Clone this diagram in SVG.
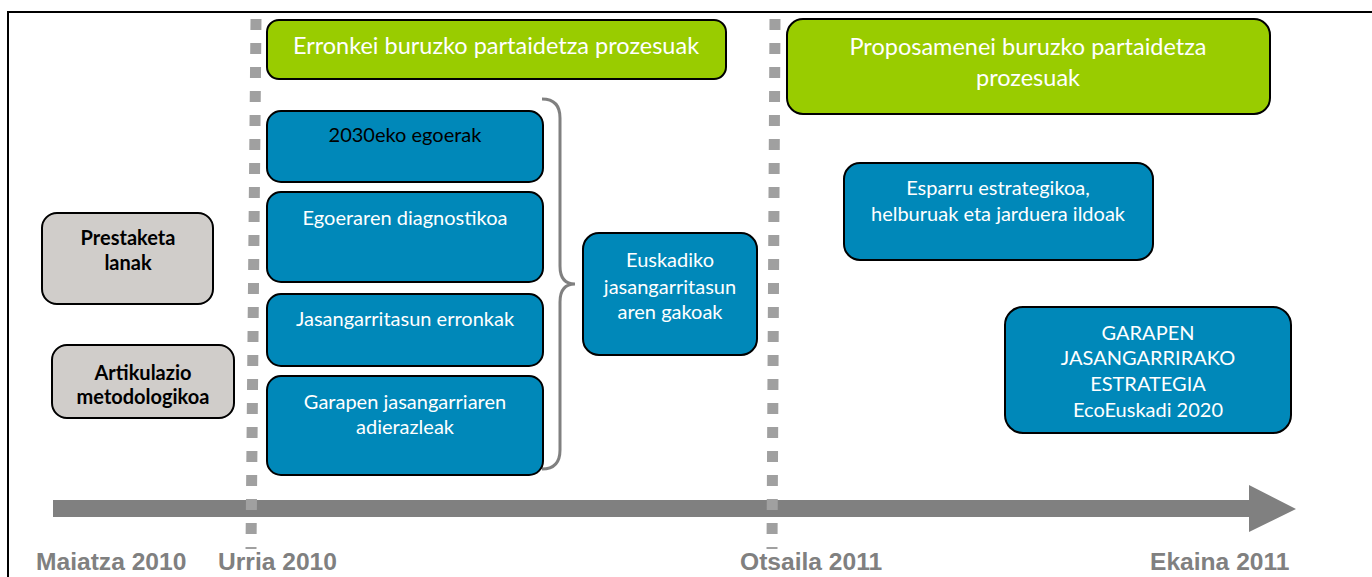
<svg xmlns="http://www.w3.org/2000/svg" width="1372" height="577" viewBox="0 0 1372 577">
<style>
.blue{fill:#0088b9;stroke:#000;stroke-width:2}
.green{fill:#99cc00;stroke:#000;stroke-width:2}
.grey{fill:#d0cdca;stroke:#000;stroke-width:2}
.t{font-family:Lato,"Open Sans",sans-serif;font-size:20px;fill:#fff;text-anchor:middle}
.tg{font-family:Lato,"Open Sans",sans-serif;font-size:23.5px;fill:#fff;text-anchor:middle}
.tb{font-family:Lato,"Open Sans",sans-serif;font-size:20px;font-weight:bold;fill:#000;text-anchor:middle}
.date{font-family:"Liberation Sans",Arial,sans-serif;font-size:24.6px;font-weight:bold;fill:#808080}
.dots{stroke:#a0a0a0;stroke-width:11;stroke-dasharray:11 13;fill:none}
</style>
<rect width="1372" height="577" fill="#fff"/>
<path d="M8 600 L8 12 L1400 12" fill="none" stroke="#000" stroke-width="2"/>
<g id="connectors">
<polygon id="timeline" points="53,500 1249,500 1249,485 1296,509 1249,532 1249,517 53,517" fill="#808080"/>
<path id="brace" d="M542 99 Q560 99 560 118 L560 266 Q560 284 575 284 Q560 284 560 302 L560 450 Q560 469 542 469" fill="none" stroke="#808080" stroke-width="3"/>
<line id="sep1" class="dots" x1="256" y1="19" x2="251" y2="549"/>
<line id="sep2" class="dots" x1="775" y1="19" x2="772" y2="549"/>
</g>
<g id="n-erronkei"><rect class="green" x="267" y="20" width="459" height="59" rx="12"/><text class="tg" x="496" y="54">Erronkei buruzko partaidetza prozesuak</text></g>
<g id="n-proposamenei"><rect class="green" x="787" y="19" width="483" height="95" rx="16"/><text class="tg" x="1028" y="55">Proposamenei buruzko partaidetza</text><text class="tg" x="1028" y="86">prozesuak</text></g>
<g id="n-prestaketa"><rect class="grey" x="42" y="213" width="171" height="91" rx="15"/><text class="tb" x="128" y="245">Prestaketa</text><text class="tb" x="128" y="270">lanak</text></g>
<g id="n-artikulazio"><rect class="grey" x="52" y="345" width="182" height="73" rx="15"/><text class="tb" x="143" y="380">Artikulazio</text><text class="tb" x="143" y="404">metodologikoa</text></g>
<g id="n-2030"><rect class="blue" x="267" y="111" width="276" height="71" rx="14"/><text class="t" x="405" y="142" style="fill:#000">2030eko egoerak</text></g>
<g id="n-diagnostikoa"><rect class="blue" x="267" y="192" width="276" height="90" rx="14"/><text class="t" x="405" y="225">Egoeraren diagnostikoa</text></g>
<g id="n-erronkak"><rect class="blue" x="267" y="294" width="276" height="72" rx="14"/><text class="t" x="405" y="326">Jasangarritasun erronkak</text></g>
<g id="n-adierazleak"><rect class="blue" x="267" y="376" width="276" height="99" rx="14"/><text class="t" x="405" y="409">Garapen jasangarriaren</text><text class="t" x="405" y="434">adierazleak</text></g>
<g id="n-gakoak"><rect class="blue" x="583" y="233" width="174" height="122" rx="16"/><text class="t" x="670" y="267">Euskadiko</text><text class="t" x="670" y="294">jasangarritasun</text><text class="t" x="670" y="319">aren gakoak</text></g>
<g id="n-esparru"><rect class="blue" x="844" y="163" width="309" height="97" rx="16"/><text class="t" x="998" y="195">Esparru estrategikoa,</text><text class="t" x="998" y="221">helburuak eta jarduera ildoak</text></g>
<g id="n-estrategia"><rect class="blue" x="1005" y="307" width="286" height="126" rx="18"/><text class="t" x="1148" y="340">GARAPEN</text><text class="t" x="1148" y="365">JASANGARRIRAKO</text><text class="t" x="1148" y="391">ESTRATEGIA</text><text class="t" x="1148" y="417">EcoEuskadi 2020</text></g>
<g id="dates">
<text class="date" x="36" y="570">Maiatza 2010</text>
<text class="date" x="218" y="570">Urria 2010</text>
<text class="date" x="740" y="570">Otsaila 2011</text>
<text class="date" x="1150" y="570">Ekaina 2011</text>
</g>
</svg>
